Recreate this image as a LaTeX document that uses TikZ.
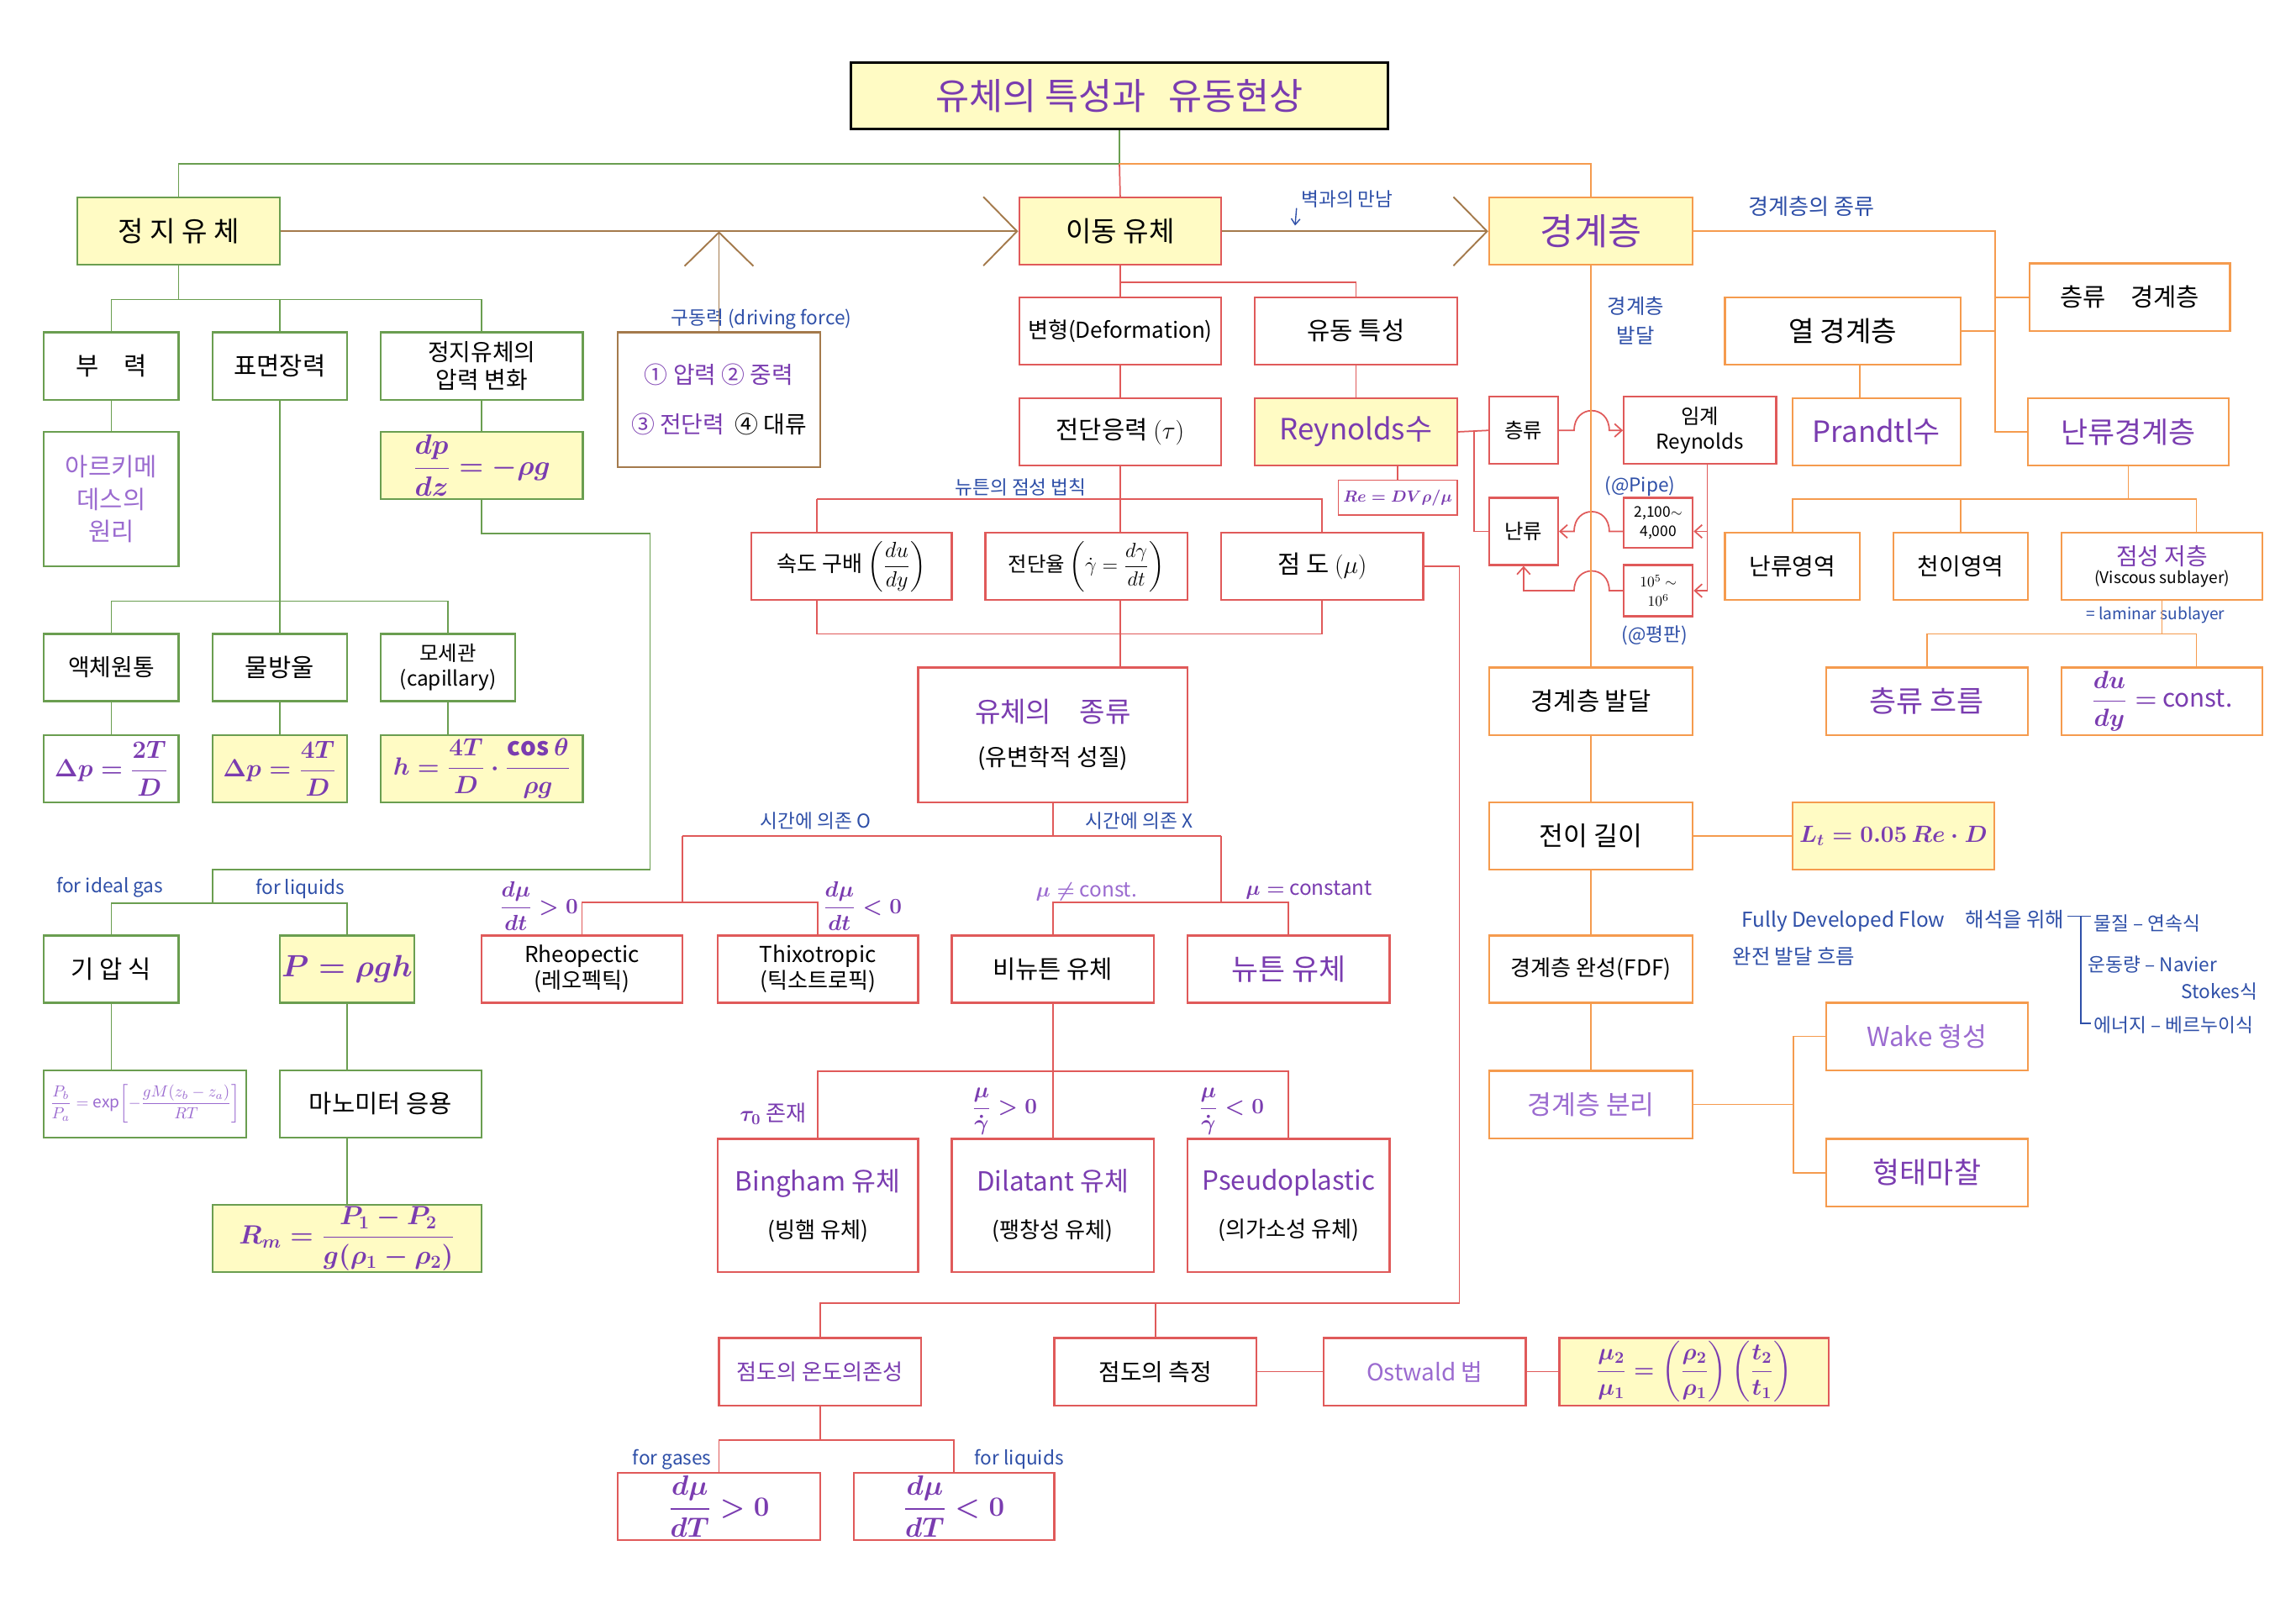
\RequirePackage{fix-cm}
\documentclass[tikz,border=0pt]{standalone}
\usepackage{amsmath}
\usepackage{fontspec}
\setmainfont{Noto Sans CJK KR}
\usetikzlibrary{arrows.meta}
\definecolor{grn}{HTML}{6A9E50}
\definecolor{rd}{HTML}{E05A5A}
\definecolor{org}{HTML}{F59B4E}
\definecolor{brn}{HTML}{A47A4C}
\definecolor{lemon}{HTML}{FFFBC4}
\definecolor{pur}{HTML}{7A3CB0}
\definecolor{lpur}{HTML}{9B6BD0}
\definecolor{blu}{HTML}{2E4FA8}
\newcommand{\fsz}[2]{\fontsize{#1}{#2}\selectfont}

\begin{document}
\begin{tikzpicture}[x=1pt,y=-1pt,
  box/.style={draw,fill=white,line width=1.3pt,inner sep=1pt,align=center,font=\fsz{17}{21}},
  sz/.style 2 args={minimum width=#1pt,minimum height=#2pt},
  gbox/.style={box,draw=grn},
  rbox/.style={box,draw=rd},
  obox/.style={box,draw=org},
  hl/.style={fill=lemon},
  fml/.style={text=pur,execute at begin node=\boldmath},
  gline/.style={draw=grn,line width=1pt},
  rline/.style={draw=rd,line width=1pt},
  oline/.style={draw=org,line width=1pt},
  bline/.style={draw=brn,line width=1.1pt},
  note/.style={text=blu,font=\fsz{13}{15},inner sep=0pt},
  pnote/.style={fml,font=\fsz{15}{17},inner sep=0pt},
  arr/.style={-{Straight Barb[length=5pt,width=9pt]}},
  bigarr/.style={-{Straight Barb[length=23pt,width=47pt]}}]
  \useasboundingbox (0,0) rectangle (1568,1102);
  \fill[white] (0,0) rectangle (1568,1102);

  % title and first level
  \node[box,draw=black,line width=1.8pt,hl,sz={367}{45},text=pur,font=\fsz{25}{30}] (title) at (764.5,65.5) {유체의 특성과\hspace{0.6em}유동현상};
  \node[gbox,hl,sz={138}{46},font=\fsz{19}{22}] (jungji) at (122,158) {정 지 유 체};
  \node[rbox,hl,sz={138}{46},font=\fsz{19}{22}] (idong) at (765,158) {이동 유체};
  \node[obox,hl,sz={139}{46},text=pur,font=\fsz{25}{30}] (gyeong) at (1086.5,158) {경계층};

  \draw[gline] (title.south) -- ++(0,23) -| (jungji.north);
  \draw[rline] (title.south) ++(0,23) -- (idong.north);
  \draw[oline] (title.south) ++(0,23) -| (gyeong.north);

  % driving force
  \node[box,draw=brn,sz={138}{92},font=\fsz{16}{20}] (drive) at (491,273) {{\color{pur}① 압력 ② 중력}\\[14pt]{\color{pur}③ 전단력}\ \ ④ 대류};
  \node[note] (ldrive) at (520,218) {구동력 (driving force)};
  \draw[bline,bigarr] (jungji.east) -- (idong.west);
  \draw[bline,bigarr] (idong.east) -- (gyeong.west);
  \draw[bline,bigarr] (drive.north) -- (drive.north |- jungji.east);
  \node[note] (lwall) at (920,136) {벽과의 만남};
  \draw[blu,line width=0.8pt,-{Straight Barb[length=4pt,width=6pt]}] ([xshift=-3pt]lwall.south west) -- ++(-1,12);

  % static fluid
  \node[gbox,sz={92}{46}] (buryeok) at (76,250) {부\quad 력};
  \node[gbox,sz={92}{46}] (pyomyeon) at (191,250) {표면장력};
  \node[gbox,sz={138}{46},font=\fsz{16}{19}] (apryeok) at (329,250) {정지유체의\\압력 변화};
  \node[gbox,sz={92}{92},text=lpur,font=\fsz{17}{22}] (archi) at (76,341) {아르키메\\데스의\\원리};
  \node[gbox,hl,sz={138}{46},fml,font=\fsz{19}{22}] (dpdz) at (329,318) {$\dfrac{dp}{dz}=-\rho g$};
  \node[gbox,sz={92}{46},font=\fsz{16}{19}] (cyl) at (76,456) {액체원통};
  \node[gbox,sz={92}{46}] (drop) at (191,456) {물방울};
  \node[gbox,sz={92}{46},font=\fsz{14}{17}] (capil) at (306,456) {모세관\\(capillary)};
  \node[gbox,sz={92}{46},fml] (dpcyl) at (76,525) {$\Delta p=\dfrac{2T}{D}$};
  \node[gbox,hl,sz={92}{46},fml] (dpdrop) at (191,525) {$\Delta p=\dfrac{4T}{D}$};
  \node[gbox,hl,sz={138}{46},fml] (hcap) at (329,525) {$h=\dfrac{4T}{D}\cdot\dfrac{\cos\theta}{\rho g}$};
  \node[gbox,sz={92}{46}] (giap) at (76,662) {기 압 식};
  \node[gbox,hl,sz={92}{46},fml,font=\fsz{21}{25}] (pgh) at (237,662) {$P=\rho g h$};
  \node[gbox,sz={138}{46},text=lpur,font=\fsz{11}{13}] (baro) at (99,754) {$\dfrac{P_b}{P_a}=\exp\!\left[-\dfrac{gM(z_b-z_a)}{RT}\right]$};
  \node[gbox,sz={138}{46}] (mano) at (260,754) {마노미터 응용};
  \node[gbox,hl,sz={184}{46},fml,font=\fsz{18}{22}] (rman) at (237,846) {$R_m=\dfrac{P_1-P_2}{g(\rho_1-\rho_2)}$};
  \node[note] (lgas) at (75,606) {for ideal gas};
  \node[note] (lliq) at (205,607) {for liquids};

  \draw[gline] (jungji.south) -- ++(0,23) coordinate (gb1)
    (buryeok.north) |- (gb1) -| (apryeok.north)
    (pyomyeon.north) -- (pyomyeon.north |- gb1);
  \draw[gline] (buryeok.south) -- (archi.north);
  \draw[gline] (apryeok.south) -- (dpdz.north);
  \draw[gline] (pyomyeon.south) -- ++(0,137) coordinate (gb2)
    (cyl.north) |- (gb2) -| (capil.north)
    (gb2) -- (drop.north);
  \draw[gline] (cyl.south) -- (dpcyl.north);
  \draw[gline] (drop.south) -- (dpdrop.north);
  \draw[gline] (capil.south) -- (capil.south |- hcap.north);
  \coordinate (gb3) at (145,594);
  \draw[gline] (dpdz.south) -- ++(0,23) -- ++(115,0) |- (gb3) -- ++(0,23) coordinate (gb4)
    (giap.north) |- (gb4) -| (pgh.north);
  \draw[gline] (giap.south) -- (giap.south |- baro.north);
  \draw[gline] (pgh.south) -- (pgh.south |- mano.north);
  \draw[gline] (rman.north) -- (rman.north |- mano.south);

  % moving fluid
  \node[rbox,sz={138}{46},font=\fsz{15}{18}] (deform) at (765,226) {변형(Deformation)};
  \node[rbox,sz={138}{46}] (flowprop) at (926,226) {유동 특성};
  \node[rbox,sz={138}{46}] (shear) at (765,295) {전단응력 $(\tau)$};
  \node[rbox,hl,sz={138}{46},text=pur,font=\fsz{20}{24}] (reyn) at (926,295) {Reynolds수};
  \node[rbox,sz={81}{24},fml,font=\fsz{11}{13},line width=1pt] (rebox) at (954.5,340) {$Re=DV\rho/\mu$};
  \node[note] (lnewton) at (697,333) {뉴튼의 점성 법칙};
  \node[rbox,sz={137}{46},font=\fsz{15}{18}] (sgrad) at (581.5,387) {속도 구배 $\left(\dfrac{du}{dy}\right)$};
  \node[rbox,sz={138}{46},font=\fsz{14}{17}] (srate) at (742,387) {전단율 $\left(\dot{\gamma}=\dfrac{d\gamma}{dt}\right)$};
  \node[rbox,sz={138}{46}] (visc) at (903,387) {점 도 $(\mu)$};
  \node[rbox,sz={184}{92},font=\fsz{16}{20}] (kind) at (719,502) {{\color{pur}\fsz{19}{22}유체의\quad 종류}\\[10pt](유변학적 성질)};

  \draw[rline] (idong.south) -- (deform.north);
  \draw[rline] (idong.south) ++(0,11) -| (flowprop.north);
  \draw[rline] (deform.south) -- (shear.north);
  \draw[rline] (flowprop.south) -- (reyn.north);
  \draw[rline] (rebox.north) -- (rebox.north |- reyn.south);
  \coordinate (nt) at (558,341);
  \coordinate (nb) at (558,433);
  \draw[rline] (shear.south) -- (shear.south |- nt) (nt) -| (visc.north)
    (nt) -- (nt |- sgrad.north) (shear.south |- nt) -- (shear.south |- srate.north);
  \draw[rline] (nt |- sgrad.south) -- (nb) -| (visc.south)
    (shear.south |- srate.south) -- (shear.south |- kind.north);

  % kinds of fluid
  \node[rbox,sz={137}{46},font=\fsz{15}{18}] (rheo) at (397.5,662) {Rheopectic\\(레오펙틱)};
  \node[rbox,sz={137}{46},font=\fsz{15}{18}] (thixo) at (558.5,662) {Thixotropic\\(틱소트로픽)};
  \node[rbox,sz={138}{46}] (nonnewt) at (719,662) {비뉴튼 유체};
  \node[rbox,sz={138}{46},text=pur,font=\fsz{20}{24}] (newt) at (880,662) {뉴튼 유체};
  \node[rbox,sz={137}{91},font=\fsz{15}{18}] (bingham) at (558.5,823.5) {{\color{pur}\fsz{18}{22}Bingham 유체}\\[14pt](빙햄 유체)};
  \node[rbox,sz={138}{91},font=\fsz{15}{18}] (dilat) at (719,823.5) {{\color{pur}\fsz{18}{22}Dilatant 유체}\\[14pt](팽창성 유체)};
  \node[rbox,sz={138}{91},font=\fsz{15}{18}] (pseudo) at (880,823.5) {{\color{pur}\fsz{18}{22}Pseudoplastic}\\[14pt](의가소성 유체)};
  \node[note] (ltimeo) at (557,561) {시간에 의존 O};
  \node[note] (ltimex) at (778,561) {시간에 의존 X};
  \node[pnote] (lrheo) at (368,619) {$\dfrac{d\mu}{dt}>0$};
  \node[pnote] (lthixo) at (589,619) {$\dfrac{d\mu}{dt}<0$};
  \node[pnote,text=lpur,font=\fsz{14}{16}] (lnon) at (742,609) {$\mu\neq$ const.};
  \node[pnote,font=\fsz{14}{16}] (lnewt) at (894,608) {$\mu=$ constant};
  \node[pnote] (lbing) at (528,761) {$\tau_0$ 존재};
  \node[pnote] (ldil) at (686,759) {$\dfrac{\mu}{\dot{\gamma}}>0$};
  \node[pnote] (lpse) at (841,759) {$\dfrac{\mu}{\dot{\gamma}}<0$};

  \coordinate (tl) at (466,571);
  \coordinate (tr) at (834,571);
  \draw[rline] (kind.south) -- (kind.south |- tl) (tl) -- (tr);
  \draw[rline] (tl) -- ++(0,45.5) coordinate (tl2) (rheo.north) |- (tl2) -| (thixo.north);
  \draw[rline] (tr) -- ++(0,45.5) coordinate (tr2) (nonnewt.north) |- (tr2) -| (newt.north);
  \draw[rline] (nonnewt.south) -- ++(0,46) coordinate (nn)
    (bingham.north) |- (nn) -| (pseudo.north) (nn) -- (dilat.north);

  % viscosity
  \node[rbox,sz={138}{46},text=pur,font=\fsz{15}{18}] (tempdep) at (560,937) {점도의 온도의존성};
  \node[rbox,sz={138}{46},font=\fsz{16}{19}] (measure) at (789,937) {점도의 측정};
  \node[rbox,sz={138}{46},text=lpur,font=\fsz{16}{19}] (ostwald) at (973,937) {Ostwald 법};
  \node[rbox,hl,sz={184}{46},fml,font=\fsz{16}{19}] (ratio) at (1157,937) {$\dfrac{\mu_2}{\mu_1}=\left(\dfrac{\rho_2}{\rho_1}\right)\left(\dfrac{t_2}{t_1}\right)$};
  \node[rbox,sz={138}{46},fml,font=\fsz{19}{22}] (dudt1) at (491,1029) {$\dfrac{d\mu}{dT}>0$};
  \node[rbox,sz={137}{46},fml,font=\fsz{19}{22}] (dudt2) at (651.5,1029) {$\dfrac{d\mu}{dT}<0$};
  \node[note] (lgases) at (459,997) {for gases};
  \node[note] (lliq2) at (696,997) {for liquids};

  \coordinate (vb) at (560,890);
  \draw[rline] (visc.east) -- ++(24,0) |- (vb) -- (tempdep.north)
    (measure.north) -- (measure.north |- vb);
  \draw[rline] (measure.east) -- (ostwald.west);
  \draw[rline] (ostwald.east) -- (ratio.west);
  \draw[rline] (tempdep.south) -- ++(0,23) coordinate (db)
    (dudt1.north) |- (db) -| (dudt2.north);

  % laminar / turbulent
  \node[rbox,sz={47}{46},font=\fsz{14}{17}] (lamr) at (1040.5,294) {층류};
  \node[rbox,sz={47}{46},font=\fsz{14}{17}] (turbr) at (1040.5,363) {난류};
  \node[rbox,sz={104}{46},font=\fsz{14}{17}] (critre) at (1161,294) {임계\\Reynolds};
  \node[rbox,sz={47}{34},font=\fsz{10}{13},inner sep=0pt] (re1) at (1132.5,357) {2,100$\sim$\\4,000};
  \node[rbox,sz={47}{35},font=\fsz{10}{13},inner sep=0pt] (re2) at (1132.5,403.5) {$10^5\sim$\\$10^6$};
  \node[note] (lpipe) at (1120,332) {(@Pipe)};
  \node[note] (lplate) at (1130,434) {(@평판)};

  \draw[rline] (reyn.east) -- (lamr.west);
  \draw[rline] (reyn.east) ++(11,0) |- (turbr.west);
  \draw[rline,arr] (lamr.east) -- (1075,294) .. controls (1075,276) and (1099,276) .. (1099,294) -- (critre.west);
  \draw[rline,arr] (re1.west |- turbr.east) -- (1099,363) .. controls (1099,345) and (1075,345) .. (1075,363) -- (turbr.east);
  \draw[rline,arr] (re2.west) -- (1099,403.5) .. controls (1099,385.5) and (1075,385.5) .. (1075,403.5) -- (turbr.south |- re2.west) -- (turbr.south);
  \draw[rline,arr] ([xshift=5pt]critre.south) -- ([xshift=5pt]critre.south |- re2.east) -- (re2.east);
  \draw[rline,arr] ([xshift=5pt]critre.south |- turbr.east) -- (re1.east |- turbr.east);

  % boundary layer
  \node[obox,sz={139}{46}] (bldev) at (1086.5,479) {경계층 발달};
  \node[obox,sz={139}{46},font=\fsz{18}{21}] (trlen) at (1086.5,571) {전이 길이};
  \node[obox,hl,sz={138}{46},fml,font=\fsz{16}{19}] (ltbox) at (1293,571) {$L_t=0.05\,Re\cdot D$};
  \node[obox,sz={139}{46},font=\fsz{15}{18}] (fdf) at (1086.5,662) {경계층 완성(FDF)};
  \node[obox,sz={139}{46},text=lpur,font=\fsz{18}{21}] (sep) at (1086.5,754.5) {경계층 분리};
  \node[obox,sz={138}{46},text=lpur,font=\fsz{18}{21}] (wake) at (1316,708) {Wake 형성};
  \node[obox,sz={138}{46},text=pur,font=\fsz{20}{24}] (formf) at (1316,801) {형태마찰};
  \node[note,align=center,font=\fsz{14}{20}] (lgrow) at (1117,219) {경계층\\발달};

  \draw[oline] (gyeong.south) -- (bldev.north);
  \draw[oline] (bldev.south) -- (trlen.north);
  \draw[oline] (trlen.south) -- (fdf.north);
  \draw[oline] (fdf.south) -- (sep.north);
  \draw[oline] (trlen.east) -- (ltbox.west);
  \draw[oline] (sep.east) -- ++(68,0) coordinate (sb)
    (wake.west) -| (sb) |- (formf.west);

  % kinds of boundary layer
  \node[obox,sz={137}{46}] (lamBL) at (1454.5,203) {층류\quad 경계층};
  \node[obox,sz={161}{46},font=\fsz{19}{22}] (thermBL) at (1258.5,226) {열 경계층};
  \node[obox,sz={115}{46},text=pur,font=\fsz{20}{24}] (prandtl) at (1281.5,295) {Prandtl수};
  \node[obox,sz={137}{46},text=pur,font=\fsz{20}{24}] (turbBL) at (1453.5,295) {난류경계층};
  \node[note,font=\fsz{15}{18}] (ltypes) at (1237,141) {경계층의 종류};

  \draw[oline] (gyeong.east) -- ++(206,0) coordinate (ob) |- (turbBL.west)
    (lamBL.west) -- (lamBL.west -| ob) (thermBL.east) -- (thermBL.east -| ob);
  \draw[oline] ([xshift=-11.5pt]prandtl.north) -- ([xshift=-11.5pt]prandtl.north |- thermBL.south);

  \node[obox,sz={92}{46},font=\fsz{16}{19}] (turbzone) at (1224,387) {난류영역};
  \node[obox,sz={92}{46},font=\fsz{16}{19}] (transzone) at (1339,387) {천이영역};
  \node[obox,sz={137}{46},font=\fsz{11}{13}] (viscsub) at (1476.5,387) {{\color{pur}\fsz{16}{19}점성 저층}\\(Viscous sublayer)};
  \node[note,font=\fsz{11}{13}] (llam) at (1472,420) {= laminar sublayer};
  \node[obox,sz={138}{46},text=pur,font=\fsz{20}{24}] (lamflow) at (1316,479) {층류 흐름};
  \node[obox,sz={137}{46},fml,font=\fsz{17}{21}] (duconst) at (1476.5,479) {$\dfrac{du}{dy}=$ const.};

  \coordinate (tz) at (1500,341);
  \draw[oline] (turbBL.south) -- (turbBL.south |- tz)
    (turbzone.north) |- (tz) -- (tz |- viscsub.north)
    (transzone.north) -- (transzone.north |- tz);
  \coordinate (vs) at (1500,433);
  \draw[oline] (viscsub.south) -- (viscsub.south |- vs)
    (lamflow.north) |- (vs) -- (vs |- duconst.north);

  % fully developed flow
  \node[note,anchor=east,font=\fsz{14}{17}] (lfdf1) at (1410,629) {Fully Developed Flow\quad 해석을 위해};
  \node[note,anchor=west,font=\fsz{14}{17}] (lfdf2) at (1183,653) {완전 발달 흐름};
  \draw[blu,line width=0.8pt] (1412,626) -- (1428,626) (1421,626) -- (1421,699) -- (1428,699);
  \node[note,anchor=west] (leq1) at (1430,631) {물질 – 연속식};
  \node[note,anchor=west] (leq2) at (1426,659) {운동량 – Navier};
  \node[note,anchor=east] (leq3) at (1542,677) {Stokes식};
  \node[note,anchor=west] (leq4) at (1430,700) {에너지 – 베르누이식};
\end{tikzpicture}
\end{document}
